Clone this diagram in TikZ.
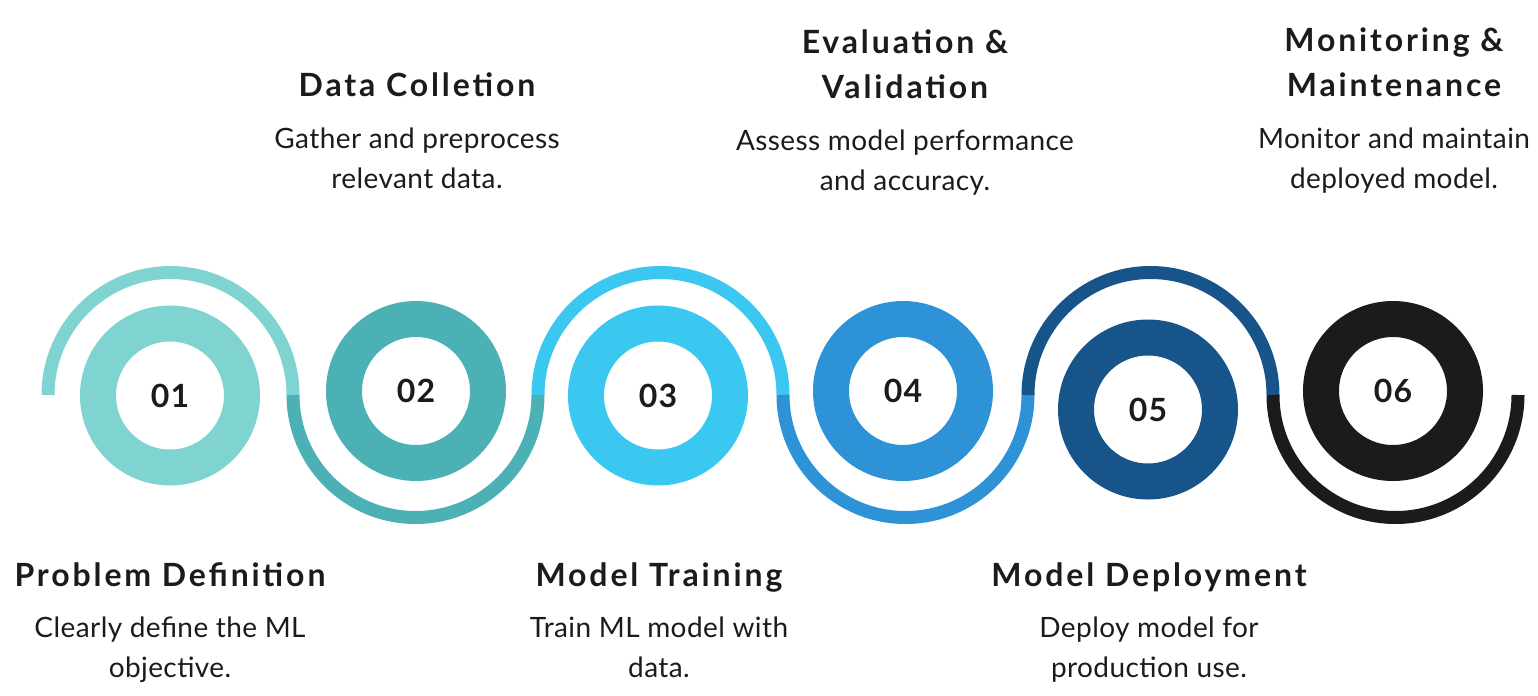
\documentclass[tikz,border=0pt]{standalone}
\usepackage{fontspec}
\setmainfont{Lato}
\usetikzlibrary{positioning}

\definecolor{ink}{HTML}{1B1B1B}
\definecolor{tealA}{HTML}{7FD4D2}
\definecolor{tealB}{HTML}{4BB1B5}
\definecolor{skyC}{HTML}{3AC8F0}
\definecolor{blueD}{HTML}{2E92D6}
\definecolor{navyE}{HTML}{16548A}
\definecolor{darkF}{HTML}{1B1B1B}

\begin{document}
\begin{tikzpicture}[x=0.5pt, y=0.5pt,
  ring/.style={circle, draw=#1, line width=18pt, minimum size=72pt, inner sep=0pt, text=ink, font=\fontsize{16}{16}\selectfont\bfseries\addfontfeature{LetterSpace=4}},
  wave/.style={draw=#1, line width=6.5pt},
  title/.style={align=center, anchor=base, inner sep=0pt, text=ink, font=\fontsize{16}{22.5}\selectfont\bfseries\addfontfeature{LetterSpace=9}},
  desc/.style={align=center, anchor=base, inner sep=0pt, text=ink, font=\fontsize{14}{20}\selectfont\addfontfeature{LetterSpace=1.5}}]
  \useasboundingbox (0,0) rectangle (1538,-696);

  % wave points
  \coordinate (w0) at (48,-395);
  \coordinate (w1) at (293,-395);
  \coordinate (w2) at (538,-395);
  \coordinate (w3) at (783,-395);
  \coordinate (w4) at (1028,-395);
  \coordinate (w5) at (1273,-395);

  \draw[wave=tealA] (w0) arc[start angle=180, end angle=0, radius=122.5];
  \draw[wave=tealB] (w1) arc[start angle=180, end angle=360, radius=122.5];
  \draw[wave=skyC] (w2) arc[start angle=180, end angle=0, radius=122.5];
  \draw[wave=blueD] (w3) arc[start angle=180, end angle=360, radius=122.5];
  \draw[wave=navyE] (w4) arc[start angle=180, end angle=0, radius=122.5];
  \draw[wave=darkF] (w5) arc[start angle=180, end angle=360, radius=122.5];

  % rings
  \node[ring=tealA] (c1) at (170,-395.5) {01};
  \node[ring=tealB] (c2) at (416,-391) {02};
  \node[ring=skyC] (c3) at (658,-395.5) {03};
  \node[ring=blueD] (c4) at (903,-391) {04};
  \node[ring=navyE] (c5) at (1148,-409.5) {05};
  \node[ring=darkF] (c6) at (1393,-391) {06};

  % steps (base = last line)
  \node[title] (t1) at (170,-586) {Problem Definition};
  \node[desc] (d1) at (170,-677) {Clearly define the ML\\objective.};
  \node[title] (t2) at (417,-96) {Data Colletion};
  \node[desc] (d2) at (417,-188) {Gather and preprocess\\relevant data.};
  \node[title] (t3) at (659,-586) {Model Training};
  \node[desc] (d3) at (659,-677) {Train ML model with\\data.};
  \node[title] (t4) at (905,-98) {Evaluation \&\\Validation};
  \node[desc] (d4) at (905,-190) {Assess model performance\\and accuracy.};
  \node[title] (t5) at (1149,-586) {Model Deployment};
  \node[desc] (d5) at (1149,-677) {Deploy model for\\production use.};
  \node[title] (t6) at (1394,-96) {Monitoring \&\\Maintenance};
  \node[desc] (d6) at (1394,-188) {Monitor and maintain\\deployed model.};
\end{tikzpicture}
\end{document}
